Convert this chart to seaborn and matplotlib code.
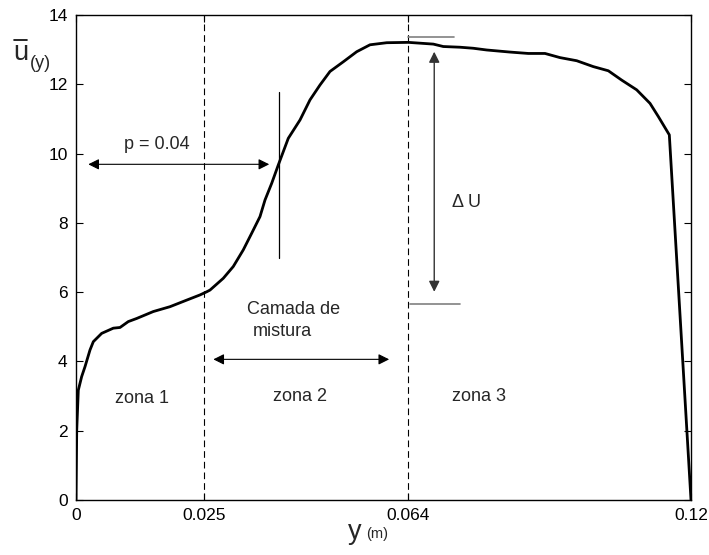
import matplotlib
matplotlib.use("Agg")
import matplotlib.pyplot as plt
from matplotlib.lines import Line2D
import numpy as np
import pandas as pd
import seaborn as sns

# Mean velocity profile across the channel
y_pos = [0.0, 0.00014, 0.00045, 0.0011, 0.00176, 0.00273, 0.00338, 0.00501,
         0.00728, 0.00859, 0.0102, 0.01184, 0.01508, 0.01834, 0.0216, 0.0242,
         0.0255, 0.02615, 0.02874, 0.03069, 0.03264, 0.03428, 0.0359, 0.03688,
         0.03818, 0.03947, 0.04142, 0.04371, 0.04566, 0.04761, 0.04956, 0.05216,
         0.05477, 0.05737, 0.06063, 0.06484, 0.06972, 0.07167, 0.07493, 0.07752,
         0.08014, 0.08468, 0.08825, 0.09151, 0.09444, 0.0977, 0.10094, 0.10387,
         0.10648, 0.1094, 0.112, 0.11362, 0.11577, 0.12]
u_mean = [0.0, 2.0, 3.17, 3.56, 3.85, 4.33, 4.57, 4.81,
          4.96, 4.98, 5.15, 5.24, 5.44, 5.58, 5.77, 5.92,
          6.01, 6.06, 6.40, 6.74, 7.22, 7.70, 8.18, 8.66,
          9.14, 9.67, 10.44, 10.97, 11.55, 11.98, 12.37, 12.65,
          12.94, 13.14, 13.20, 13.21, 13.16, 13.09, 13.07, 13.04,
          12.99, 12.93, 12.89, 12.89, 12.77, 12.68, 12.51, 12.39,
          12.12, 11.84, 11.45, 11.07, 10.54, 0.0]

x_ticks = [0.0, 0.025, 0.0648, 0.12]
x_tick_labels = ["0", "0.025", "0.064", "0.12"]
y_ticks = [0, 2, 4, 6, 8, 10, 12, 14]

zone_bounds = [0.025, 0.0648]
zone_labels = ["zona 1", "zona 2", "zona 3"]
zone_label_x = [0.0128, 0.0437, 0.0786]
zone_label_y = [2.93, 2.98, 2.98]

p_value = 0.04
p_cross = 0.0397          # location of the inflection marker
u_top, u_bottom = 13.37, 5.66

sns.set_theme(style="ticks", rc={
    "xtick.direction": "in", "ytick.direction": "in",
    "xtick.top": True, "ytick.right": True,
    "xtick.major.size": 5, "ytick.major.size": 5,
    "xtick.major.width": 0.8, "ytick.major.width": 0.8,
    "axes.linewidth": 1.0, "axes.edgecolor": "black",
    "xtick.color": "black", "ytick.color": "black",
})
plt.rcParams["font.family"] = ["Liberation Sans", "DejaVu Sans"]

fig = plt.figure(figsize=(7.09, 5.55), dpi=100)
ax = fig.add_axes([76 / 709, 1 - 500 / 555, 615 / 709, 485 / 555])

df = pd.DataFrame({"y": y_pos, "u": u_mean})
sns.lineplot(data=df, x="y", y="u", ax=ax, color="black", lw=2.0,
             sort=False, estimator=None)

ax.set_xlim(0, 0.12)
ax.set_ylim(0, 14)
ax.set_xticks(x_ticks)
ax.set_xticklabels(x_tick_labels)
ax.set_yticks(y_ticks)
ax.tick_params(labelsize=12.5, pad=6)
ax.set_xlabel("")
ax.set_ylabel("")

# zone boundaries
for xb in zone_bounds:
    ax.axvline(xb, color="black", lw=0.8, dashes=(6, 3.6))

for lx, ly, lab in zip(zone_label_x, zone_label_y, zone_labels):
    ax.text(lx, ly, lab, fontsize=13, ha="center", va="center")

# penetration length p
ax.annotate("", xy=(0.0024, 9.69), xytext=(0.0377, 9.69),
            arrowprops=dict(arrowstyle="<|-|>", color="black", lw=0.8,
                            shrinkA=0, shrinkB=0, mutation_scale=16))
ax.text(0.0158, 10.25, f"p = {p_value}", fontsize=13, ha="center", va="center")
ax.plot([p_cross, p_cross], [7.0, 11.79], color="black", lw=0.9)

# mixing layer width
ax.annotate("", xy=(0.0268, 4.06), xytext=(0.0611, 4.06),
            arrowprops=dict(arrowstyle="<|-|>", color="black", lw=0.8,
                            shrinkA=0, shrinkB=0, mutation_scale=16))
ax.text(0.0334, 5.51, "Camada de", fontsize=13, ha="left", va="center")
ax.text(0.0345, 4.86, "mistura", fontsize=13, ha="left", va="center")

# velocity difference
ax.plot([0.0648, 0.0738], [u_top, u_top], color="#808080", lw=1.2)
ax.plot([0.0652, 0.0749], [u_bottom, u_bottom], color="#808080", lw=1.2)
ax.annotate("", xy=(0.0699, 12.94), xytext=(0.0699, 6.01),
            arrowprops=dict(arrowstyle="<|-|>", color="#333333", lw=1.0,
                            shrinkA=0, shrinkB=0, mutation_scale=16))
ax.text(0.0762, 8.58, "\u0394 U", fontsize=13, ha="center", va="center")

# axis labels
W, H = 709, 555
fig.text(348 / W, 1 - 539 / H, "y", fontsize=19.5, ha="left", va="baseline")
fig.text(366 / W, 1 - 538 / H, "(m)", fontsize=10.5, ha="left", va="baseline")
fig.text(13 / W, 1 - 60.5 / H, "u", fontsize=19.5, ha="left", va="baseline")
fig.add_artist(Line2D([13.5 / W, 27 / W], [1 - 40 / H, 1 - 40 / H],
                      color="black", lw=1.2, transform=fig.transFigure))
fig.text(29.5 / W, 1 - 68.5 / H, "(y)", fontsize=13, ha="left", va="baseline")

fig.savefig("out.png", dpi=100, facecolor="white")
